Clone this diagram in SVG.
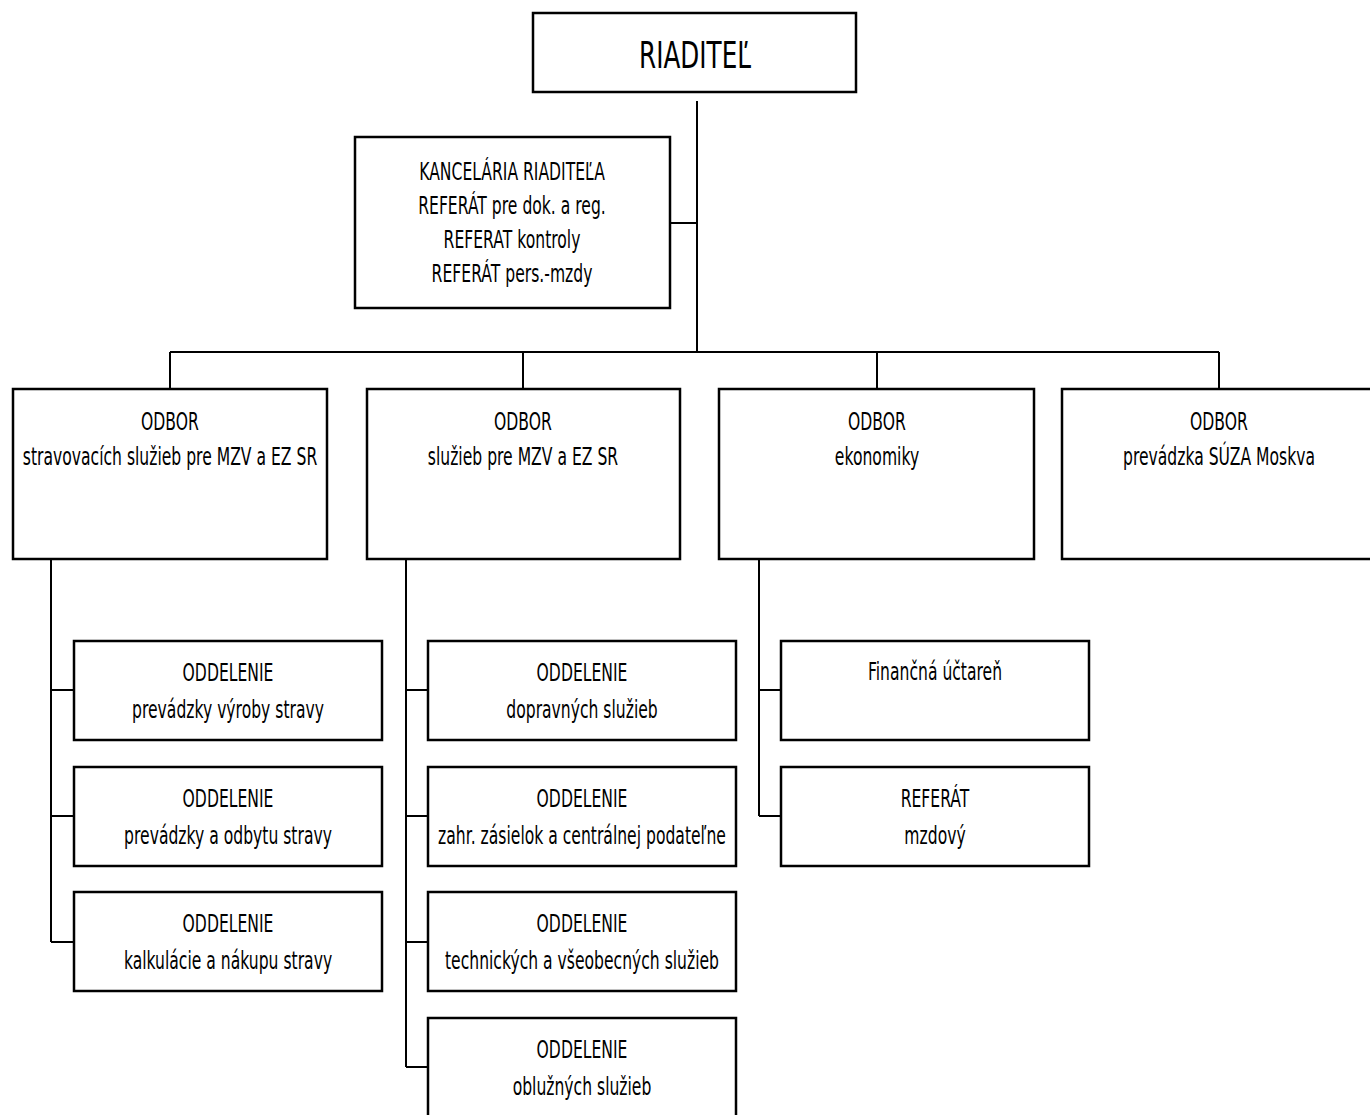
<svg xmlns="http://www.w3.org/2000/svg" width="1370" height="1115" viewBox="0 0 1370 1115">
<style>
.box{fill:#fff;stroke:#000;stroke-width:2.5}
.ln{stroke:#000;stroke-width:2;fill:none}
text{font-family:"DejaVu Sans","Noto Sans",sans-serif;font-size:24px;fill:#000;text-anchor:middle}
.big{font-size:38px}
</style>
<rect width="1370" height="1115" fill="#fff"/>
<g id="connectors">
<line class="ln" x1="697" y1="101" x2="697" y2="352"/>
<line class="ln" x1="670" y1="223" x2="697" y2="223"/>
<line class="ln" x1="170" y1="352" x2="1219" y2="352"/>
<line class="ln" x1="170" y1="352" x2="170" y2="389"/>
<line class="ln" x1="523" y1="352" x2="523" y2="389"/>
<line class="ln" x1="877" y1="352" x2="877" y2="389"/>
<line class="ln" x1="1219" y1="352" x2="1219" y2="389"/>
<line class="ln" x1="51" y1="560" x2="51" y2="942"/>
<line class="ln" x1="51" y1="690" x2="74" y2="690"/>
<line class="ln" x1="51" y1="816" x2="74" y2="816"/>
<line class="ln" x1="51" y1="942" x2="74" y2="942"/>
<line class="ln" x1="406" y1="560" x2="406" y2="1067"/>
<line class="ln" x1="406" y1="690" x2="428" y2="690"/>
<line class="ln" x1="406" y1="816" x2="428" y2="816"/>
<line class="ln" x1="406" y1="942" x2="428" y2="942"/>
<line class="ln" x1="406" y1="1067" x2="428" y2="1067"/>
<line class="ln" x1="759" y1="560" x2="759" y2="816"/>
<line class="ln" x1="759" y1="690" x2="781" y2="690"/>
<line class="ln" x1="759" y1="816" x2="781" y2="816"/>
</g>
<g id="riaditel">
<rect class="box" x="533" y="13" width="323" height="79"/>
<text class="big" transform="translate(695,0) scale(0.65,1)" y="68">RIADITEĽ</text>
</g>
<g id="kancelaria">
<rect class="box" x="355" y="137" width="315" height="171"/>
<text transform="translate(512,0) scale(0.65,1)" y="180">KANCELÁRIA RIADITEĽA</text>
<text transform="translate(512,0) scale(0.65,1)" y="214">REFERÁT pre dok. a reg.</text>
<text transform="translate(512,0) scale(0.65,1)" y="248">REFERAT kontroly</text>
<text transform="translate(512,0) scale(0.65,1)" y="282">REFERÁT pers.-mzdy</text>
</g>
<g id="odbor-stravovacich">
<rect class="box" x="13" y="389" width="314" height="170"/>
<text transform="translate(170,0) scale(0.65,1)" y="430">ODBOR</text>
<text transform="translate(170,0) scale(0.65,1)" y="465">stravovacích služieb pre MZV a EZ SR</text>
</g>
<g id="odbor-sluzieb">
<rect class="box" x="367" y="389" width="313" height="170"/>
<text transform="translate(523,0) scale(0.65,1)" y="430">ODBOR</text>
<text transform="translate(523,0) scale(0.65,1)" y="465">služieb pre MZV a EZ SR</text>
</g>
<g id="odbor-ekonomiky">
<rect class="box" x="719" y="389" width="315" height="170"/>
<text transform="translate(877,0) scale(0.65,1)" y="430">ODBOR</text>
<text transform="translate(877,0) scale(0.65,1)" y="465">ekonomiky</text>
</g>
<g id="odbor-suza">
<rect class="box" x="1062" y="389" width="320" height="170"/>
<text transform="translate(1219,0) scale(0.65,1)" y="430">ODBOR</text>
<text transform="translate(1219,0) scale(0.65,1)" y="465">prevádzka SÚZA Moskva</text>
</g>
<g id="odd-vyroby">
<rect class="box" x="74" y="641" width="308" height="99"/>
<text transform="translate(228,0) scale(0.65,1)" y="681">ODDELENIE</text>
<text transform="translate(228,0) scale(0.65,1)" y="718">prevádzky výroby stravy</text>
</g>
<g id="odd-odbytu">
<rect class="box" x="74" y="767" width="308" height="99"/>
<text transform="translate(228,0) scale(0.65,1)" y="807">ODDELENIE</text>
<text transform="translate(228,0) scale(0.65,1)" y="844">prevádzky a odbytu stravy</text>
</g>
<g id="odd-kalkulacie">
<rect class="box" x="74" y="892" width="308" height="99"/>
<text transform="translate(228,0) scale(0.65,1)" y="932">ODDELENIE</text>
<text transform="translate(228,0) scale(0.65,1)" y="969">kalkulácie a nákupu stravy</text>
</g>
<g id="odd-dopravnych">
<rect class="box" x="428" y="641" width="308" height="99"/>
<text transform="translate(582,0) scale(0.65,1)" y="681">ODDELENIE</text>
<text transform="translate(582,0) scale(0.65,1)" y="718">dopravných služieb</text>
</g>
<g id="odd-zasielok">
<rect class="box" x="428" y="767" width="308" height="99"/>
<text transform="translate(582,0) scale(0.65,1)" y="807">ODDELENIE</text>
<text transform="translate(582,0) scale(0.65,1)" y="844">zahr. zásielok a centrálnej podateľne</text>
</g>
<g id="odd-technickych">
<rect class="box" x="428" y="892" width="308" height="99"/>
<text transform="translate(582,0) scale(0.65,1)" y="932">ODDELENIE</text>
<text transform="translate(582,0) scale(0.65,1)" y="969">technických a všeobecných služieb</text>
</g>
<g id="odd-obluznych">
<rect class="box" x="428" y="1018" width="308" height="110"/>
<text transform="translate(582,0) scale(0.65,1)" y="1058">ODDELENIE</text>
<text transform="translate(582,0) scale(0.65,1)" y="1095">oblužných služieb</text>
</g>
<g id="financna-uctaren">
<rect class="box" x="781" y="641" width="308" height="99"/>
<text transform="translate(935,0) scale(0.65,1)" y="680">Finančná účtareň</text>
</g>
<g id="referat-mzdovy">
<rect class="box" x="781" y="767" width="308" height="99"/>
<text transform="translate(935,0) scale(0.65,1)" y="807">REFERÁT</text>
<text transform="translate(935,0) scale(0.65,1)" y="844">mzdový</text>
</g>
</svg>
